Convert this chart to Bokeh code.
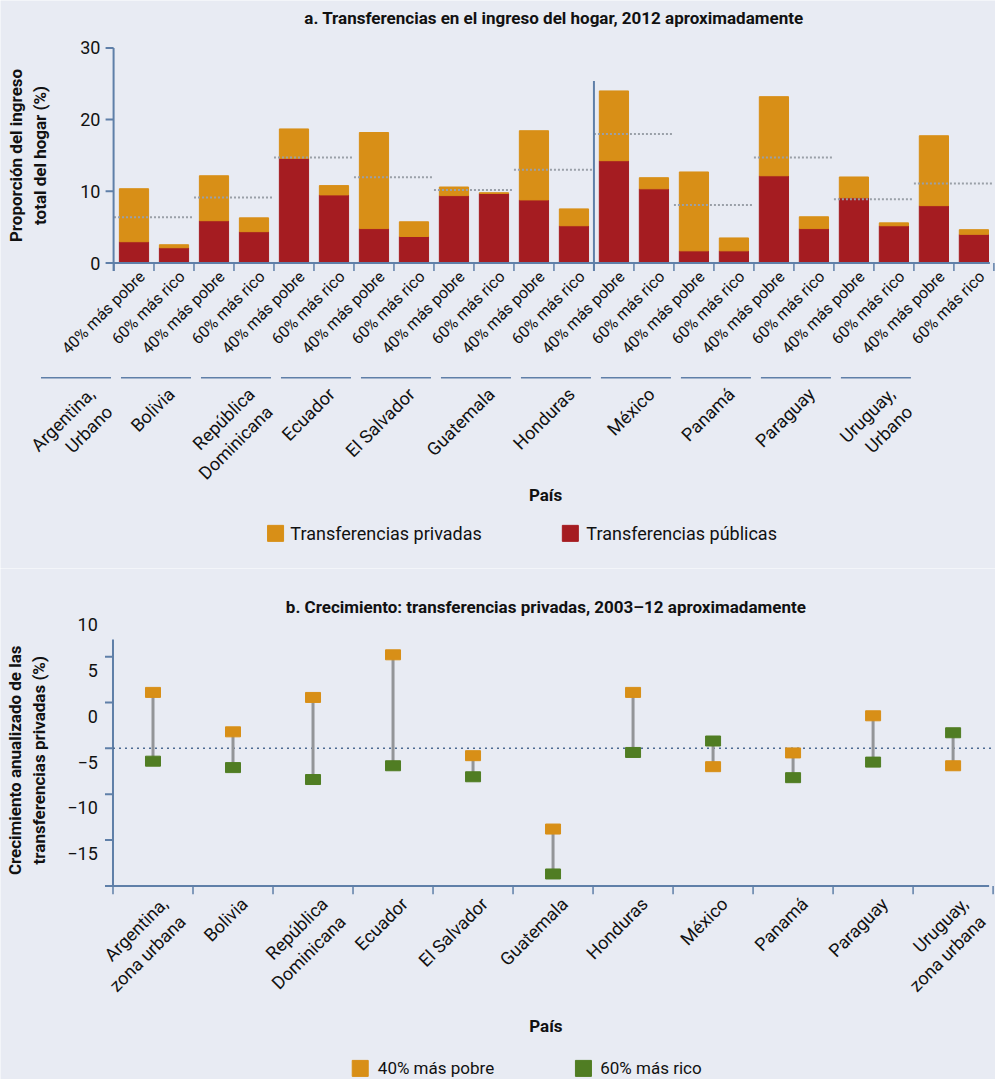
import numpy as np
from bokeh.plotting import figure
from bokeh.models import Range1d
from bokeh.layouts import column
from bokeh.core.properties import value
from bokeh.embed import file_html
from bokeh.resources import INLINE

# Panel a data
countries_a = ["Argentina,\nUrbano", "Bolivia", "República\nDominicana", "Ecuador", "El Salvador",
               "Guatemala", "Honduras", "México", "Panamá", "Paraguay", "Uruguay,\nUrbano"]
bar_labels = ["40% más pobre", "60% más rico"] * 11
publicas = [2.97, 2.13, 5.9, 4.37, 14.6, 9.5, 4.8, 3.7, 9.4, 9.7, 8.8, 5.2,
            14.27, 10.35, 1.7, 1.7, 12.17, 4.8, 9.1, 5.2, 8.0, 4.0]
totales = [10.36, 2.55, 12.17, 6.3, 18.7, 10.8, 18.2, 5.75, 10.6, 9.8, 18.45, 7.55,
           24.0, 11.9, 12.7, 3.5, 23.2, 6.45, 12.0, 5.6, 17.75, 4.65]
promedio = [6.4, 9.15, 14.7, 11.95, 10.2, 13.0, 18.0, 8.1, 14.7, 8.9, 11.1]

# Panel b data
countries_b = ["Argentina,\nzona urbana", "Bolivia", "República\nDominicana", "Ecuador", "El Salvador",
               "Guatemala", "Honduras", "México", "Panamá", "Paraguay", "Uruguay,\nzona urbana"]
pobre = [1.1, -3.2, 0.55, 5.2, -5.8, -13.8, 1.1, -7.0, -5.5, -1.45, -6.9]
rico = [-6.4, -7.1, -8.4, -6.9, -8.1, -18.7, -5.45, -4.2, -8.2, -6.5, -3.3]
ref_line = -5
yticks_b = [10, 5, 0, -5, -10, -15]

BG = "#e8ebf3"
AX = "#5f7fa8"
ORANGE = "#d88f17"
RED = "#a51c21"
GREEN = "#507d23"
FONT = "Roboto"


def base(h, xr, yr):
    p = figure(width=995, height=h, x_range=Range1d(*xr), y_range=Range1d(*yr),
               output_backend="svg", toolbar_location=None, x_axis_type=None, y_axis_type=None,
               min_border=0)
    p.grid.visible = False
    p.outline_line_color = None
    p.background_fill_color = BG
    p.border_fill_color = BG
    return p


def txt(p, x, y, s, size, align="center", base_="middle", angle=0, bold=False):
    p.text(x=[x], y=[y], text=[s], text_font_size=f"{size}px", text_align=align,
           text_baseline=base_, angle=angle, text_font=value(FONT),
           text_font_style="bold" if bold else "normal", text_color="#111111")


# ---------- panel a ----------
pa = base(568, (-3.3375, 21.54), (-42.6, 36.61))
n = len(publicas)
xs = np.arange(n)
pa.vbar(x=xs, top=publicas, bottom=0, width=0.73, color=RED)
pa.vbar(x=xs, top=totales, bottom=publicas, width=0.73, color=ORANGE)
gx = np.arange(11) * 2
pa.segment(x0=gx - 0.5, x1=gx + 1.5, y0=promedio, y1=promedio, line_color="#9aa0a8",
           line_width=2, line_dash="2 2")
# axes
pa.segment(x0=[-0.51], x1=[-0.51], y0=[-1.1], y1=[30], line_color=AX, line_width=2)
pa.segment(x0=[-0.51], x1=[21.4], y0=[0], y1=[0], line_color=AX, line_width=2)
for v in [0, 10, 20, 30]:
    pa.segment(x0=[-0.71], x1=[-0.51], y0=[v], y1=[v], line_color=AX, line_width=2)
    txt(pa, -0.84, v, str(v), 18, align="right")
bx = np.arange(n + 1) - 0.5
pa.segment(x0=bx, x1=bx, y0=0, y1=-1.1, line_color=AX, line_width=1.5)
pa.segment(x0=[11.5], x1=[11.5], y0=[-1.1], y1=[25.4], line_color=AX, line_width=2)
txt(pa, -2.66, 15.0, "Proporción del ingreso\ntotal del hogar (%)", 17, angle=np.pi / 2, bold=True)
for i, s in enumerate(bar_labels):
    txt(pa, i + 0.2, -1.5, s, 16, align="right", angle=np.pi / 4)
pa.segment(x0=gx + 0.5 - 2.825, x1=gx + 0.5 - 1.075, y0=-16.0, y1=-16.0, line_color=AX, line_width=1.5)
for g, s in enumerate(countries_a):
    txt(pa, 2 * g - 1.25, -16.8, s, 18, align="right", base_="top", angle=np.pi / 4)
txt(pa, 10.5, 34.1, "a. Transferencias en el ingreso del hogar, 2012 aproximadamente", 17, bold=True)
txt(pa, 10.29, -32.3, "País", 17, bold=True)
pa.scatter(x=[3.54], y=[-37.7], marker="square", size=16, color=ORANGE)
txt(pa, 3.91, -37.7, "Transferencias privadas", 18, align="left")
pa.scatter(x=[10.91], y=[-37.7], marker="square", size=16, color=RED)
txt(pa, 11.31, -37.7, "Transferencias públicas", 18, align="left")

# ---------- panel b ----------
pb = base(511, (-1.906, 10.53), (-41.11, 14.61))
cx = np.arange(11)
pb.segment(x0=[-0.5], x1=[-0.5], y0=[-20], y1=[6.87], line_color=AX, line_width=2)
pb.segment(x0=[-0.5], x1=[10.45], y0=[-20], y1=[-20], line_color=AX, line_width=2)
for v in [5, 0, -5, -10, -15, -20]:
    pb.segment(x0=[-0.6], x1=[-0.5], y0=[v], y1=[v], line_color=AX, line_width=2)
for v in yticks_b:
    txt(pb, -0.69, v - 1.5, str(v).replace("-", "\u2212"), 18, align="right")
tx = np.arange(12) - 0.5
pb.segment(x0=tx, x1=tx, y0=-20, y1=-20.9, line_color=AX, line_width=1.5)
pb.segment(x0=[-0.5], x1=[10.53], y0=[ref_line], y1=[ref_line], line_color="#4c6a92",
           line_width=1.5, line_dash="2 4")
pb.segment(x0=cx, x1=cx, y0=pobre, y1=rico, line_color="#939598", line_width=3)
pb.rect(x=cx, y=rico, width=15, height=10, width_units="screen", height_units="screen", color=GREEN)
pb.rect(x=cx, y=pobre, width=15, height=10, width_units="screen", height_units="screen", color=ORANGE)
for i, s in enumerate(countries_b):
    txt(pb, i + 0.05, -20.8, s, 18, align="right", base_="top", angle=np.pi / 4)
txt(pb, -1.57, -6.3, "Crecimiento anualizado de las\ntransferencias privadas (%)", 17,
    angle=np.pi / 2, bold=True)
txt(pb, 4.91, 10.36, "b. Crecimiento: transferencias privadas, 2003–12 aproximadamente", 17, bold=True)
txt(pb, 4.91, -35.3, "País", 17, bold=True)
pb.scatter(x=[2.59], y=[-39.9], marker="square", size=16, color=ORANGE)
txt(pb, 2.81, -39.9, "40% más pobre", 17, align="left")
pb.scatter(x=[5.38], y=[-39.9], marker="square", size=16, color=GREEN)
txt(pb, 5.59, -39.9, "60% más rico", 17, align="left")

p = column(pa, pb, spacing=0)
open("out.html", "w").write(file_html(p, INLINE))
